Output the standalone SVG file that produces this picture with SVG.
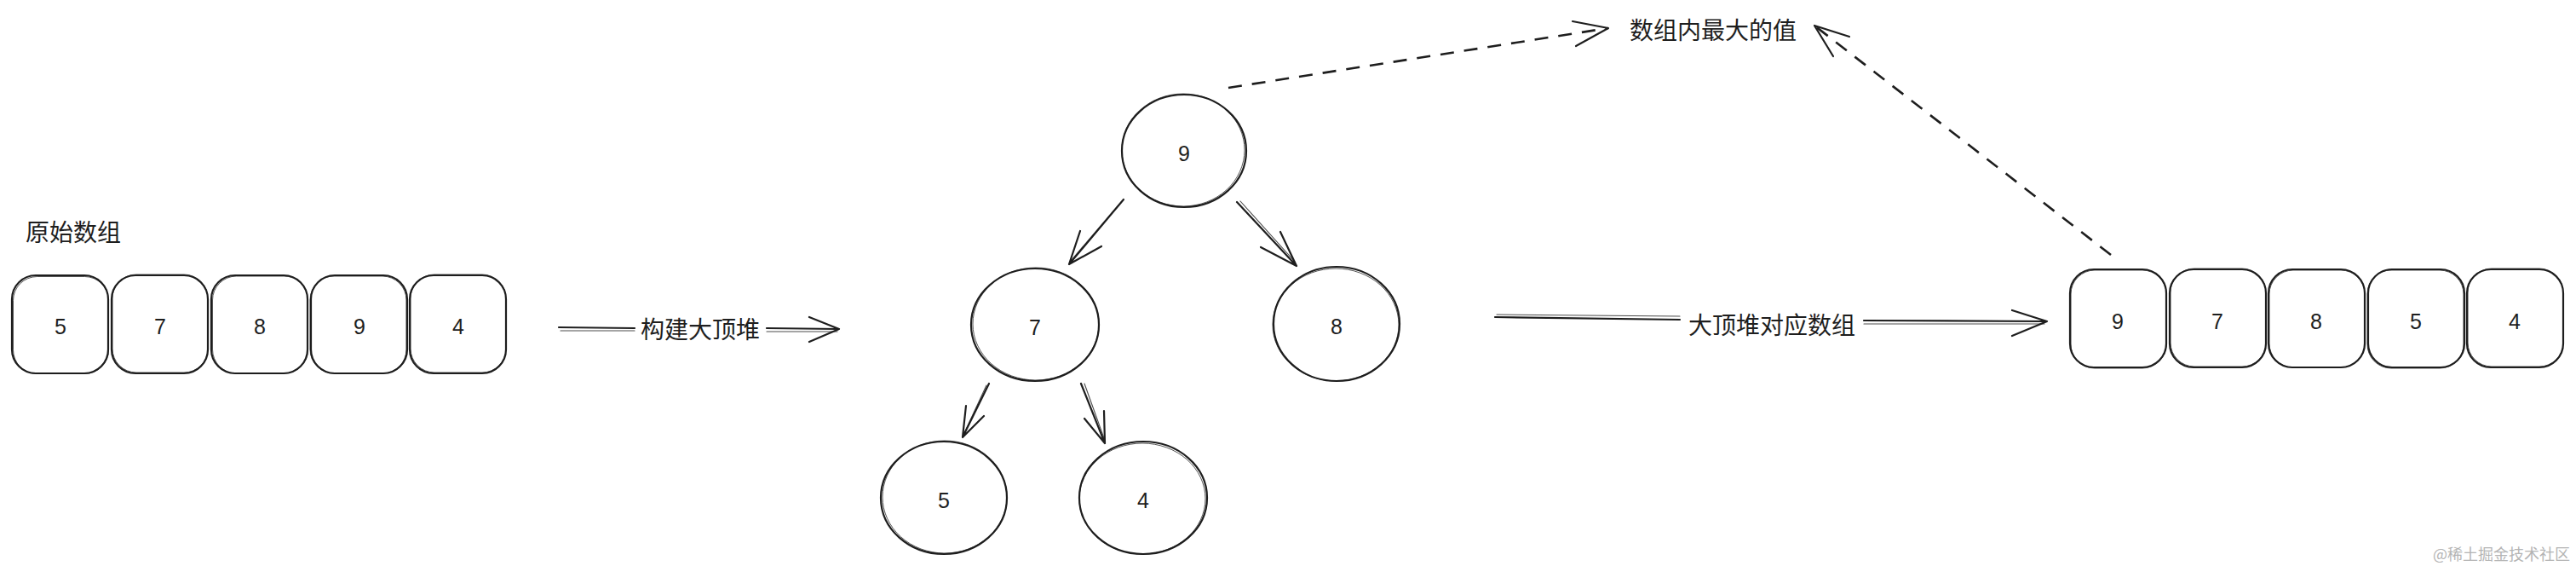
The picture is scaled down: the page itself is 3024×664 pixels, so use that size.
<svg xmlns="http://www.w3.org/2000/svg" width="3024" height="664" viewBox="0 0 3024 664">
<defs>
<style>
.bx{fill:#fff;stroke:#1e1e1e;stroke-width:2.2}
.sk{fill:none;stroke:#1e1e1e;stroke-width:1;opacity:.75}
.ln{fill:none;stroke:#1e1e1e;stroke-width:2.2;stroke-linecap:round;stroke-linejoin:round}
.ln2{fill:none;stroke:#1e1e1e;stroke-width:1.1;stroke-linecap:round;opacity:.8}
.ds{fill:none;stroke:#1e1e1e;stroke-width:2.6;stroke-dasharray:16 12;stroke-linecap:butt}
.num{font-family:"Liberation Sans","DejaVu Sans",sans-serif;font-size:25px;fill:#1e1e1e;text-anchor:middle;dominant-baseline:central}
.cjk{font-family:"Noto Sans CJK SC","Noto Sans",sans-serif;font-size:28px;fill:#1e1e1e;text-anchor:middle;dominant-baseline:central}
.wm{font-family:"Noto Sans CJK SC","Noto Sans",sans-serif;font-size:18px;fill:#b4b4b4;text-anchor:end;dominant-baseline:central}
</style>
</defs>
<rect width="3024" height="664" fill="#fff"/>

<g id="label-original">
<text class="cjk" x="86" y="271">原始数组</text>
</g>

<g id="orig-0"><rect class="bx" x="14" y="323" width="113" height="115" rx="28"/><rect class="sk" x="15.5" y="324.5" width="112" height="114" rx="28"/><text class="num" x="71" y="383">5</text></g>
<g id="orig-1"><rect class="bx" x="131" y="323" width="113" height="115" rx="28"/><rect class="sk" x="132" y="322" width="112" height="115" rx="28"/><text class="num" x="188" y="383">7</text></g>
<g id="orig-2"><rect class="bx" x="248" y="323" width="113" height="115" rx="28"/><rect class="sk" x="249.5" y="324" width="112" height="114" rx="28"/><text class="num" x="305" y="383">8</text></g>
<g id="orig-3"><rect class="bx" x="365" y="323" width="113" height="115" rx="28"/><rect class="sk" x="364" y="324" width="113" height="114" rx="28"/><text class="num" x="422" y="383">9</text></g>
<g id="orig-4"><rect class="bx" x="481" y="323" width="113" height="115" rx="28"/><rect class="sk" x="482" y="322" width="112" height="115" rx="28"/><text class="num" x="538" y="383">4</text></g>

<g id="heap-9"><ellipse class="bx" cx="1390" cy="177" rx="73" ry="66"/><ellipse class="sk" cx="1389" cy="176" rx="72" ry="66"/><text class="num" x="1390" y="180">9</text></g>
<g id="heap-7"><ellipse class="bx" cx="1215" cy="381" rx="75" ry="66"/><ellipse class="sk" cx="1216" cy="380" rx="74" ry="66"/><text class="num" x="1215" y="384">7</text></g>
<g id="heap-8"><ellipse class="bx" cx="1569" cy="380" rx="74" ry="67"/><ellipse class="sk" cx="1568" cy="381" rx="74" ry="66"/><text class="num" x="1569" y="383">8</text></g>
<g id="heap-5"><ellipse class="bx" cx="1108" cy="584" rx="74" ry="66"/><ellipse class="sk" cx="1109" cy="583" rx="73" ry="66"/><text class="num" x="1108" y="587">5</text></g>
<g id="heap-4"><ellipse class="bx" cx="1342" cy="584" rx="75" ry="66"/><ellipse class="sk" cx="1341" cy="585" rx="74" ry="65"/><text class="num" x="1342" y="587">4</text></g>

<g id="label-max">
<text class="cjk" x="2011" y="34">数组内最大的值</text>
</g>

<g id="res-0"><rect class="bx" x="2430" y="316" width="113" height="115" rx="28"/><rect class="sk" x="2431" y="317" width="112" height="115" rx="28"/><text class="num" x="2486" y="377">9</text></g>
<g id="res-1"><rect class="bx" x="2547" y="316" width="113" height="115" rx="28"/><rect class="sk" x="2548" y="315" width="112" height="115" rx="28"/><text class="num" x="2603" y="377">7</text></g>
<g id="res-2"><rect class="bx" x="2663" y="316" width="113" height="115" rx="28"/><rect class="sk" x="2664" y="317" width="112" height="114" rx="28"/><text class="num" x="2719" y="377">8</text></g>
<g id="res-3"><rect class="bx" x="2780" y="316" width="113" height="115" rx="28"/><rect class="sk" x="2779" y="317" width="113" height="115" rx="28"/><text class="num" x="2836" y="377">5</text></g>
<g id="res-4"><rect class="bx" x="2896" y="316" width="113" height="115" rx="28"/><rect class="sk" x="2897" y="315" width="112" height="115" rx="28"/><text class="num" x="2952" y="377">4</text></g>

<g id="connectors">
<!-- build heap arrow -->
<path class="ln" d="M656 384 L745 385 M900 385 L985 386 M950 372 L985 386 L950 401"/>
<path class="ln2" d="M658 388 L745 388 M900 389 L983 389"/>
<text class="cjk" x="822" y="385">构建大顶堆</text>
<!-- tree edges -->
<path class="ln" d="M1319 234 L1255 310 M1268 271 L1255 310 L1293 289"/>
<path class="ln2" d="M1316 237 L1257 306"/>
<path class="ln" d="M1452 237 L1522 312 M1503 272 L1522 312 L1480 290"/>
<path class="ln2" d="M1456 236 L1520 307"/>
<path class="ln" d="M1161 450 L1130 513 M1134 476 L1130 513 L1155 488"/>
<path class="ln2" d="M1158 452 L1132 508"/>
<path class="ln" d="M1269 450 L1297 520 M1296 482 L1297 520 L1273 491"/>
<path class="ln2" d="M1273 450 L1296 514"/>
<!-- heap to array arrow -->
<path class="ln" d="M1755 372 L1972 375 M2188 376 L2403 377 M2362 364 L2403 377 L2362 394"/>
<path class="ln2" d="M1757 369 L1972 371 M2188 380 L2400 380"/>
<text class="cjk" x="2080" y="380">大顶堆对应数组</text>
<!-- dashed arrows to max label -->
<path class="ds" d="M1442 103 L1888 33"/>
<path class="ln" d="M1846 25 L1888 33 L1850 54"/>
<path class="ds" d="M2478 299 L2130 30"/>
<path class="ln" d="M2171 43 L2130 30 L2152 66"/>
</g>

<text class="wm" x="3017" y="649">@稀土掘金技术社区</text>
</svg>
